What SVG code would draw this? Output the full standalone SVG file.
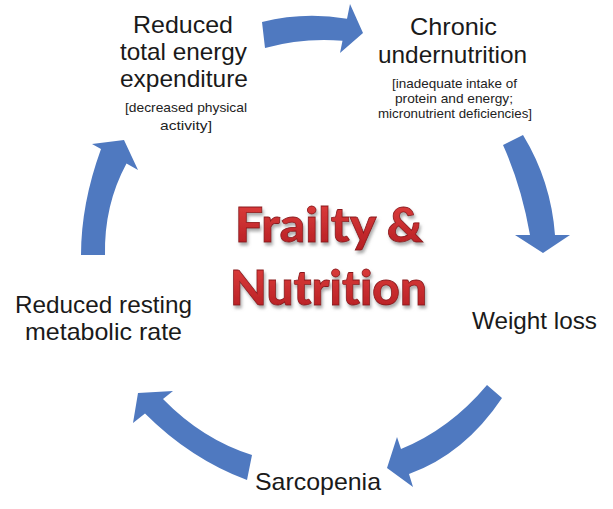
<svg xmlns="http://www.w3.org/2000/svg" width="613" height="509" viewBox="0 0 613 509">
  <defs>
    <linearGradient id="redGrad" x1="0" y1="0" x2="0" y2="1">
      <stop offset="0" stop-color="#e2413f"/>
      <stop offset="1" stop-color="#b31d22"/>
    </linearGradient>
    <filter id="shadow" x="-10%" y="-20%" width="130%" height="150%">
      <feDropShadow dx="1.5" dy="3" stdDeviation="1.5" flood-color="#777" flood-opacity="0.6"/>
    </filter>
  </defs>
  <style>
    .lbl { font-family: "Liberation Sans", Arial, sans-serif; font-size: 24px; fill: #1a1a1a; }
    .sub { font-family: "Liberation Sans", Arial, sans-serif; font-size: 13.5px; fill: #222; }
    .title { font-family: Lato, "Open Sans", sans-serif; font-weight: 900; font-size: 48px; font-variant-ligatures: none; fill: url(#redGrad); stroke: #8a171b; stroke-width: 0.8; filter: url(#shadow); }
    .arrow { fill: #4f79c0; }
  </style>
  <rect width="613" height="509" fill="#ffffff"/>

  <g id="connectors">
    <path class="arrow" d="M262,22 Q303.5,11.5 347,18.7 L350,4 L363,33 L340,53 L342.5,40.75 Q302,37.6 265,48 Z"/>
    <path class="arrow" d="M523,135 Q551,181 555,235 L570,235 L543,253 L515,235 L530,235 Q521.5,186 503,145 Z"/>
    <path class="arrow" d="M502,398 Q464.5,454 409,474 L413,487 L387,468 L397,437 L401,449 Q450,429 487,385 Z"/>
    <path class="arrow" d="M252,455 Q202.5,439.5 163,399 L173,391 L138,393 L133,423 L145,413.4 Q190,458.5 247,480 Z"/>
    <path class="arrow" d="M81,255 Q81,204 101,149 L92,144 L124,140 L138,170 L126.5,163.5 Q104,205 105,255 Z"/>
  </g>

  <g id="node-energy">
    <text class="lbl" x="133" y="33" textLength="100" lengthAdjust="spacingAndGlyphs">Reduced</text>
    <text class="lbl" x="120" y="60" textLength="127" lengthAdjust="spacingAndGlyphs">total energy</text>
    <text class="lbl" x="120" y="87" textLength="128" lengthAdjust="spacingAndGlyphs">expenditure</text>
    <text class="sub" x="125" y="112" textLength="122" lengthAdjust="spacingAndGlyphs">[decreased physical</text>
    <text class="sub" x="160" y="130" textLength="52" lengthAdjust="spacingAndGlyphs">activity]</text>
  </g>

  <g id="node-undernutrition">
    <text class="lbl" x="410" y="35" textLength="87" lengthAdjust="spacingAndGlyphs">Chronic</text>
    <text class="lbl" x="378" y="63" textLength="149" lengthAdjust="spacingAndGlyphs">undernutrition</text>
    <text class="sub" x="392" y="88" textLength="125" lengthAdjust="spacingAndGlyphs">[inadequate intake of</text>
    <text class="sub" x="395" y="103" textLength="118" lengthAdjust="spacingAndGlyphs">protein and energy;</text>
    <text class="sub" x="378" y="118" textLength="154" lengthAdjust="spacingAndGlyphs">micronutrient deficiencies]</text>
  </g>

  <g id="node-weightloss">
    <text class="lbl" x="472" y="329" textLength="125" lengthAdjust="spacingAndGlyphs">Weight loss</text>
  </g>

  <g id="node-sarcopenia">
    <text class="lbl" x="255" y="490" textLength="126" lengthAdjust="spacingAndGlyphs">Sarcopenia</text>
  </g>

  <g id="node-rmr">
    <text class="lbl" x="15" y="313" textLength="177" lengthAdjust="spacingAndGlyphs">Reduced resting</text>
    <text class="lbl" x="25" y="340" textLength="157" lengthAdjust="spacingAndGlyphs">metabolic rate</text>
  </g>

  <g id="node-title">
    <text class="title" x="235" y="242" textLength="188" lengthAdjust="spacingAndGlyphs">Frailty &amp;</text>
    <text class="title" x="230" y="305" textLength="197" lengthAdjust="spacingAndGlyphs">Nutrition</text>
  </g>
</svg>
